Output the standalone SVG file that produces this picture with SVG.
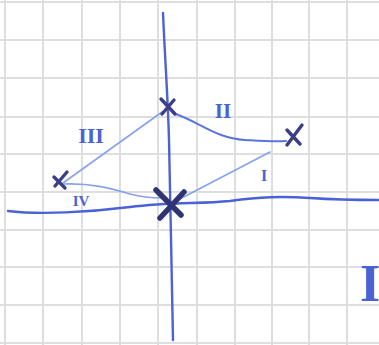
<svg xmlns="http://www.w3.org/2000/svg" width="379" height="345" viewBox="0 0 379 345">
<style>
.grid line{stroke:#dedede;stroke-width:2}
.axis{fill:none;stroke:#4b62d6;stroke-width:2.4;stroke-linecap:round}
.thin{fill:none;stroke:#86a2ec;stroke-width:1.6;stroke-linecap:round}
.curve{fill:none;stroke:#5a74dc;stroke-width:2;stroke-linecap:round}
.mark{stroke:#3a3f86;stroke-width:3.4;stroke-linecap:round;fill:none}
.big{stroke:#2f3474;stroke-width:5.5;stroke-linecap:round;fill:none}
.lbl{font-family:"Liberation Serif",serif;fill:#4a62d4;font-weight:bold}
</style>
<rect width="379" height="345" fill="#ffffff"/>
<g class="grid">
<line x1="5" y1="0" x2="5" y2="345"/><line x1="43" y1="0" x2="43" y2="345"/><line x1="82" y1="0" x2="82" y2="345"/><line x1="120" y1="0" x2="120" y2="345"/><line x1="158" y1="0" x2="158" y2="345"/><line x1="197" y1="0" x2="197" y2="345"/><line x1="235" y1="0" x2="235" y2="345"/><line x1="272" y1="0" x2="272" y2="345"/><line x1="309" y1="0" x2="309" y2="345"/><line x1="347" y1="0" x2="347" y2="345"/>
<line x1="0" y1="2" x2="379" y2="2"/><line x1="0" y1="40" x2="379" y2="40"/><line x1="0" y1="78" x2="379" y2="78"/><line x1="0" y1="117" x2="379" y2="117"/><line x1="0" y1="154" x2="379" y2="154"/><line x1="0" y1="192" x2="379" y2="192"/><line x1="0" y1="230" x2="379" y2="230"/><line x1="0" y1="267" x2="379" y2="267"/><line x1="0" y1="305" x2="379" y2="305"/><line x1="0" y1="343" x2="379" y2="343"/>
</g>
<g id="axes">
<path class="axis" d="M163,13 C165,60 168,100 169,140 C170,180 171,240 172,290 L173,340"/>
<path class="axis" d="M8,211 C40,215 90,212 130,207 C170,202 200,204 230,201 C260,197 280,196 310,198 C340,200 360,200 379,200"/>
</g>
<g id="connectors">
<path class="thin" d="M176,201 L270,152"/>
<path class="curve" d="M173,113 C200,122 215,138 245,140 C262,141 275,142 286,141"/>
<path class="thin" d="M162,112 L63,183"/>
<path class="thin" d="M64,184 C90,183 110,188 130,194 C145,198 155,198 162,198"/>
</g>
<g id="p2"><path class="mark" d="M161,99 L175,114 M174,100 L162,114"/></g>
<g id="p1"><path class="mark" d="M302,125 L287,145 M287,130 L300,144"/></g>
<g id="p4"><path class="mark" d="M54,177 L65,188 M67,172 L55,186"/></g>
<g id="p0"><path class="big" d="M156,190 L181,215 M184,192 L160,218"/></g>
<g id="labels">
<text class="lbl" x="223" y="118" font-size="21" text-anchor="middle">II</text>
<text class="lbl" x="91" y="143" font-size="22" text-anchor="middle">III</text>
<text class="lbl" x="264" y="181" font-size="16" text-anchor="middle">I</text>
<text class="lbl" x="81" y="206" font-size="15" text-anchor="middle">IV</text>
<text class="lbl" x="370" y="301" font-size="52" text-anchor="middle">I</text>
</g>
</svg>
